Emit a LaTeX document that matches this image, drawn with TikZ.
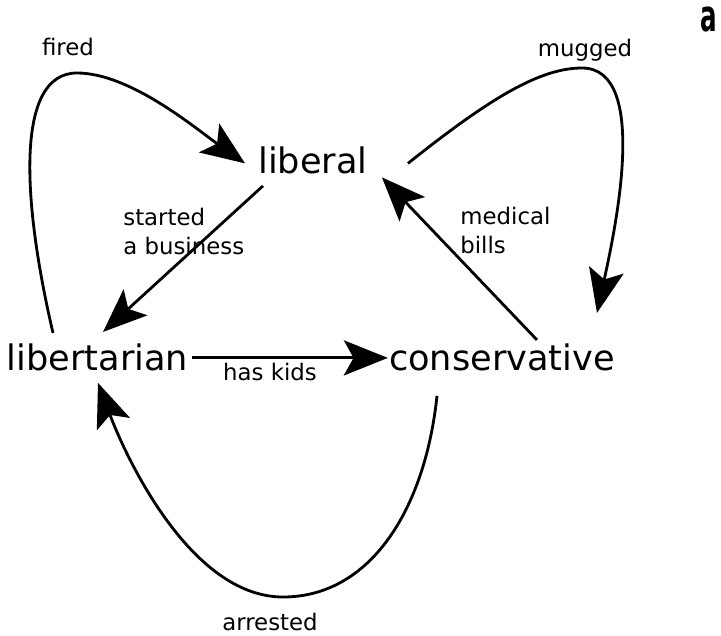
\documentclass[tikz,border=0pt]{standalone}
\usepackage{fontspec}
\setmainfont{DejaVu Sans}
\usetikzlibrary{arrows.meta}

\tikzset{
  state/.style={font=\fontsize{20}{24}\selectfont, inner sep=0pt, anchor=base},
  tag/.style={font=\fontsize{13}{16.5}\selectfont, inner sep=0pt},
  flow/.style={line width=1.6pt, -{Stealth[length=25pt,width=20pt,inset=5.5pt]}}
}

\begin{document}
\begin{tikzpicture}[x=0.02cm,y=-0.02cm]
    \useasboundingbox (0,0) rectangle (721,636);

    % States
    \node[state] (liberal) at (313,173) {liberal};
    \node[state] (libertarian) at (97.5,370) {libertarian};
    \node[state] (conservative) at (502,370) {conservative};

    % Edge labels
    \node[tag, anchor=base] (fired) at (68,55) {fired};
    \node[tag, anchor=base] (mugged) at (585,56) {mugged};
    \node[tag, anchor=north west, align=left] (business) at (123,208) {started\\a business};
    \node[tag, anchor=north west, align=left] (bills) at (460,207) {medical\\bills};
    \node[tag, anchor=base] (kids) at (270,380) {has kids};
    \node[tag, anchor=base] (arrested) at (270,630) {arrested};

    % Panel letter
    \node[font=\fontsize{25}{30}\selectfont\bfseries, inner sep=0pt, anchor=base] (panel) at (708.5,31) {\scalebox{0.56}[1]{a}};

    % Transitions
    \draw[flow] ([shift={(-44.5,-10)}]libertarian.north) .. controls (22,200) and (15,73) .. (77,73)
        .. controls (130,73) and (195,128) .. ([shift={(-13,3.5)}]liberal.west);
    \draw[flow] ([shift={(-50,12)}]liberal.south) -- ([shift={(5.5,-11)}]libertarian.north);
    \draw[flow] ([shift={(40,3.5)}]liberal.east) .. controls (490,98) and (540,68) .. (582,68)
        .. controls (650,68) and (615,230) .. ([shift={(95,-30)}]conservative.north);
    \draw[flow] ([shift={(35,-3)}]conservative.north) -- ([shift={(14,17.5)}]liberal.east);
    \draw[flow] ([shift={(4,1)}]libertarian.east) -- ([shift={(-1,1)}]conservative.west);
    \draw[flow] ([shift={(-65,25)}]conservative.south) .. controls (425,510) and (370,597) .. (283,597)
        .. controls (190,597) and (125,455) .. ([shift={(0.5,12)}]libertarian.south);

\end{tikzpicture}
\end{document}
